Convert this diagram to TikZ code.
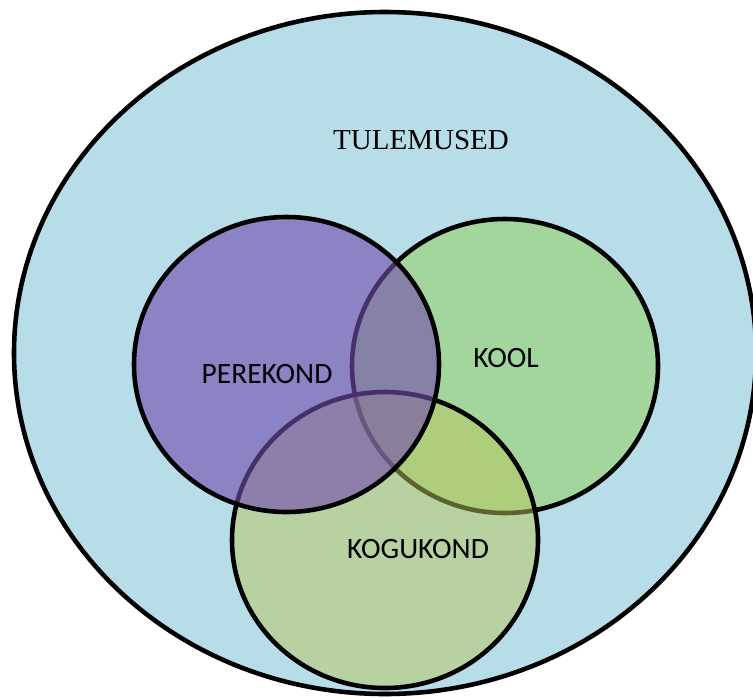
\documentclass[tikz,border=0pt]{standalone}
\usepackage{fontspec}
\setmainfont{Liberation Serif}
\newfontfamily\calibri{Carlito}
\definecolor{outerblue}{RGB}{183,221,232}
\definecolor{koolgreen}{RGB}{163,214,156}
\definecolor{kogolive}{RGB}{185,199,92}
\definecolor{perepurple}{RGB}{115,77,175}

\begin{document}
\begin{tikzpicture}[x=0.02cm, y=-0.02cm, line width=2.6pt]
  \useasboundingbox (0, 0) rectangle (753, 697);
  \draw[fill=outerblue] (385, 353) ellipse [x radius=371, y radius=341];
  \draw[fill=koolgreen] (505, 366) ellipse [x radius=153, y radius=147];
  \fill[kogolive, fill opacity=0.5] (385, 540) ellipse [x radius=153, y radius=148];
  \draw (385, 540) ellipse [x radius=153, y radius=148];
  \fill[perepurple, fill opacity=0.62] (286.5, 364.5) ellipse [x radius=152.5, y radius=147.5];
  \draw (286.5, 364.5) ellipse [x radius=152.5, y radius=147.5];
  \node (tulemused) at (421, 140) {\fontsize{16.5}{19}\selectfont TULEMUSED};
  \node (perekond) at (267, 374) {\calibri\fontsize{16.8}{19}\selectfont PEREKOND};
  \node (kool) at (506, 358) {\calibri\fontsize{16.8}{19}\selectfont KOOL};
  \node (kogukond) at (418, 549) {\calibri\fontsize{16.8}{19}\selectfont KOGUKOND};
\end{tikzpicture}
\end{document}
